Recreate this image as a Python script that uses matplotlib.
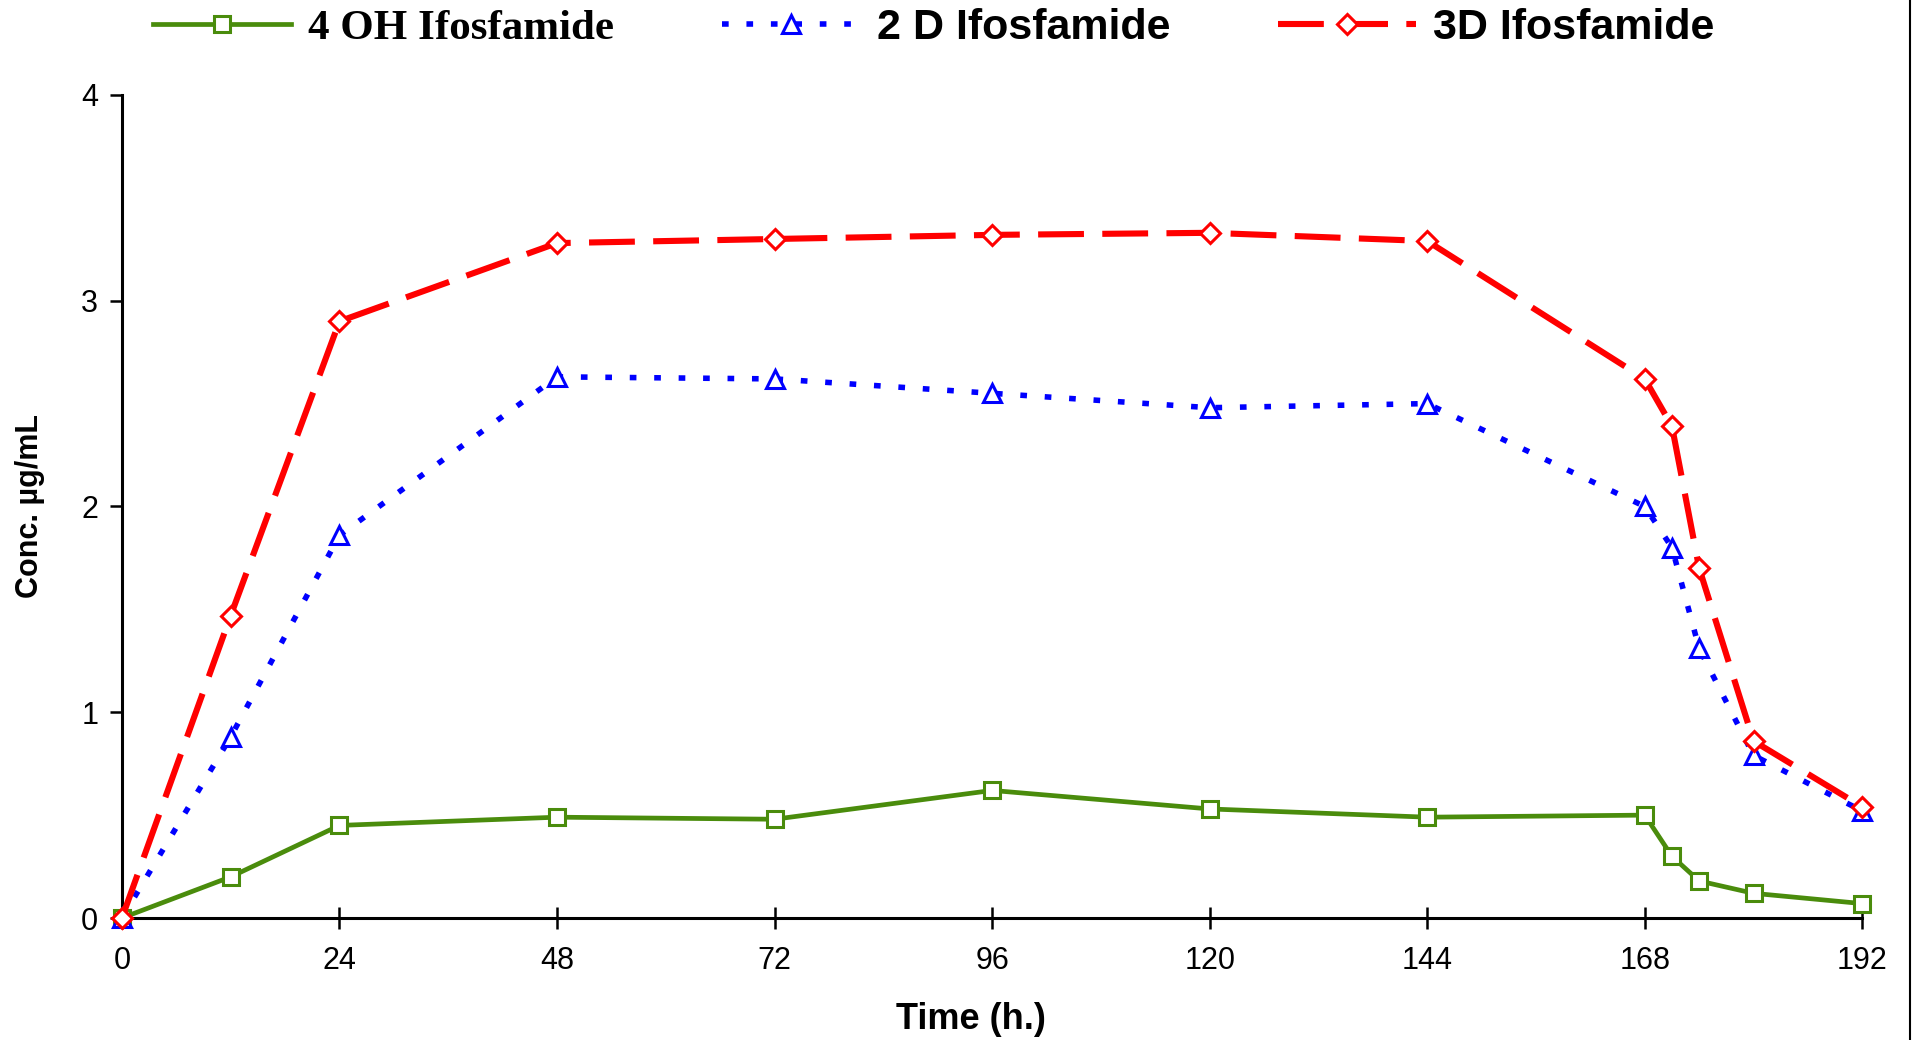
import matplotlib
matplotlib.use("Agg")
import matplotlib.pyplot as plt
from matplotlib.lines import Line2D

# sampling times (h)
hours = [0, 12, 24, 48, 72, 96, 120, 144, 168, 171, 174, 180, 192]

# concentrations (ug/mL)
oh4_ifos = [0.0, 0.20, 0.45, 0.49, 0.48, 0.62, 0.53, 0.49, 0.50, 0.30, 0.18, 0.12, 0.07]
d2_ifos = [0.0, 0.88, 1.86, 2.63, 2.62, 2.55, 2.48, 2.50, 2.00, 1.80, 1.31, 0.79, 0.52]
d3_ifos = [0.0, 1.47, 2.90, 3.28, 3.30, 3.32, 3.33, 3.29, 2.62, 2.39, 1.70, 0.86, 0.54]

series_names = ["4 OH Ifosfamide", "2 D Ifosfamide", "3D Ifosfamide"]
x_ticks = [0, 24, 48, 72, 96, 120, 144, 168, 192]
y_ticks = [0, 1, 2, 3, 4]

plt.rcParams['font.family'] = ['Liberation Sans', 'DejaVu Sans']

fig = plt.figure(figsize=(19.14, 10.4), dpi=100)
ax = fig.add_axes([0.0637, 0.1173, 0.9093, 0.7914])

ax.plot(hours, oh4_ifos, color='#4a8c0c', lw=3.4, marker='s', markersize=11,
        markerfacecolor='white', markeredgecolor='#4a8c0c', markeredgewidth=2.2,
        label=series_names[0], zorder=3)
ax.plot(hours, d2_ifos, color='#0000ff', lw=4.0, dashes=(1.2, 3.2), marker='^', markersize=13,
        markerfacecolor='white', markeredgecolor='#0000ff', markeredgewidth=2.2,
        label=series_names[1], zorder=4)
ax.plot(hours, d3_ifos, color='#ff0000', lw=4.4, dashes=(7.5, 3), marker='D', markersize=10.5,
        markerfacecolor='white', markeredgecolor='#ff0000', markeredgewidth=2.2,
        label=series_names[2], zorder=5)

ax.set_xlim(0, 192)
ax.set_ylim(0, 4)
ax.set_xticks(x_ticks)
ax.set_yticks(y_ticks)
ax.spines['top'].set_visible(False)
ax.spines['right'].set_visible(False)
ax.spines['left'].set_linewidth(2.2)
ax.spines['bottom'].set_linewidth(2.2)
ax.tick_params(axis='y', direction='out', length=9, width=1.8, labelsize=22, pad=8)
ax.tick_params(axis='x', direction='inout', length=16, width=1.8, labelsize=22, pad=12)

ax.set_xlabel("Time (h.)", fontsize=26, fontweight='bold')
ax.xaxis.label.set_va('center')
ax.xaxis.set_label_coords(0.488, -0.123)
ax.set_ylabel("Conc. µg/mL", fontsize=22, fontweight='bold')
ax.yaxis.label.set_va('center')
ax.yaxis.set_label_coords(-0.0526, 0.5)
for ln in ax.lines:
    ln.set_clip_on(False)

leg = fig.legend(loc='center', bbox_to_anchor=(0.488, 0.973), ncol=3, frameon=False,
                 fontsize=31, handlelength=3.2, columnspacing=2.5, handletextpad=0.4)
for t in leg.get_texts():
    t.set_fontweight('bold')
leg.get_texts()[0].set_family(['Liberation Serif', 'DejaVu Serif'])

# thin frame edge on the right side
fig.add_artist(Line2D([0.998, 0.998], [0.0, 1.0], color='black', lw=1.5, transform=fig.transFigure))

fig.savefig("out.png", dpi=100)
